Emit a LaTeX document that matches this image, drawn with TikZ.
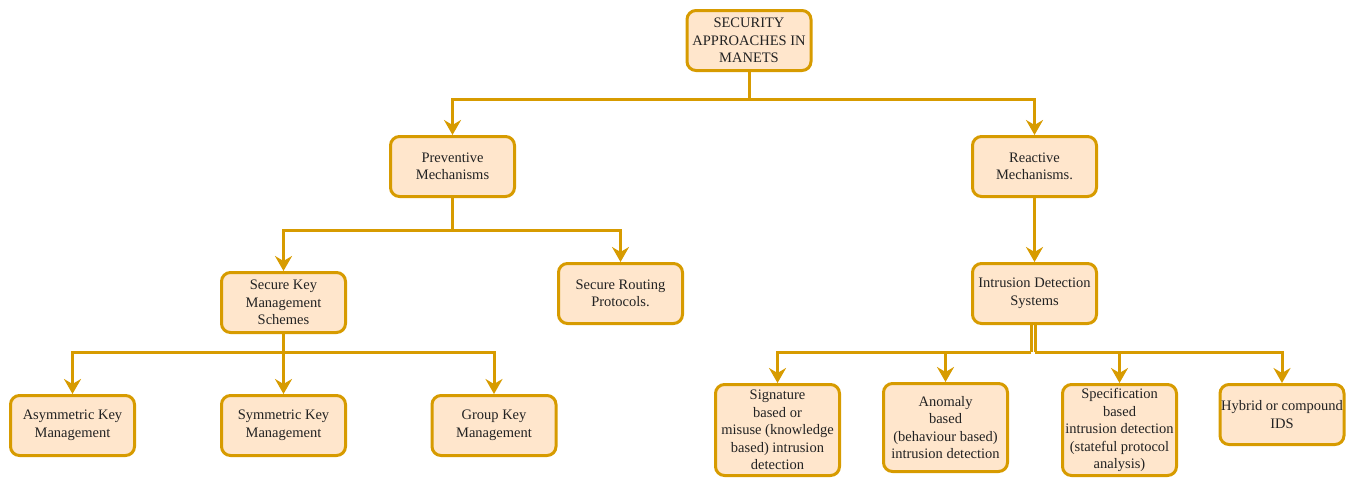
\documentclass[tikz,border=0pt]{standalone}
\usepackage{fontspec}
\setmainfont{Liberation Serif}
\usetikzlibrary{arrows.meta}
\definecolor{boxfill}{HTML}{FFE6CC}
\definecolor{boxline}{HTML}{D79B00}
\definecolor{txt}{HTML}{222222}
\tikzset{
  box/.style={draw=boxline, fill=boxfill, line width=3pt, rounded corners=9pt,
    minimum width=124pt, minimum height=60pt, align=center, inner sep=1pt,
    text=txt, font=\rmfamily\fontsize{14.5pt}{17.5pt}\selectfont},
  conn/.style={draw=boxline, line width=3pt},
  arr/.style={conn, -{Stealth[length=15pt,width=17pt,inset=5pt]}}
}
\begin{document}
\begin{tikzpicture}[x=1pt,y=-1pt]
\useasboundingbox (0,0) rectangle (1359,479);

% tree of boxes
\node[box] (top) at (749,40.5) {SECURITY\\APPROACHES IN\\MANETS};
\node[box] (prev) at (452.5,166.5) {Preventive\\Mechanisms};
\node[box] (react) at (1034.5,166.5) {Reactive\\Mechanisms.};
\node[box] (skm) at (283.5,302.5) {Secure Key\\Management\\Schemes};
\node[box] (srp) at (620.5,293.5) {Secure Routing\\Protocols.};
\node[box] (ids) at (1034.5,293.5) {Intrusion Detection\\Systems};
\node[box] (asym) at (72.5,425.5) {Asymmetric Key\\Management};
\node[box] (sym) at (283.5,425.5) {Symmetric Key\\Management};
\node[box] (grp) at (494,425.5) {Group Key\\Management};
\node[box, minimum height=91pt] (sig) at (777.5,430) {Signature\\based or\\misuse (knowledge\\based) intrusion\\detection};
\node[box, minimum height=88pt] (anom) at (945.5,427.5) {Anomaly\\based\\(behaviour based)\\intrusion detection};
\node[box, minimum width=114pt, minimum height=91pt] (spec) at (1119.5,430) {Specification\\based\\intrusion detection\\(stateful protocol\\analysis)};
\node[box] (hyb) at (1282,414.5) {Hybrid or compound\\IDS};

% bus levels
\coordinate (b1) at (749,99);
\coordinate (b2) at (452.5,230);
\coordinate (b3) at (283.5,352);
\coordinate (b4l) at (1031,352);
\coordinate (b4r) at (1035,352);

% connectors
\draw[conn] (top.south) -- (b1);
\draw[arr] (b1) -| (prev.north);
\draw[arr] (b1) -| (react.north);

\draw[conn] (prev.south) -- (b2);
\draw[arr] (b2) -| (skm.north);
\draw[arr] (b2) -| (srp.north);

\draw[arr] (react.south) -- (ids.north);

\draw[conn] (skm.south) -- (b3);
\draw[arr] (b3) -| (asym.north);
\draw[arr] (b3) -- (sym.north);
\draw[arr] (b3) -| (grp.north);

\draw[conn] (ids.south -| b4l) -- (b4l);
\draw[conn] (ids.south -| b4r) -- (b4r);
\draw[arr] (b4l) -| (sig.north);
\draw[arr] (b4l) -| (anom.north);
\draw[arr] (b4r) -| (spec.north);
\draw[arr] (b4r) -| (hyb.north);
\end{tikzpicture}
\end{document}
